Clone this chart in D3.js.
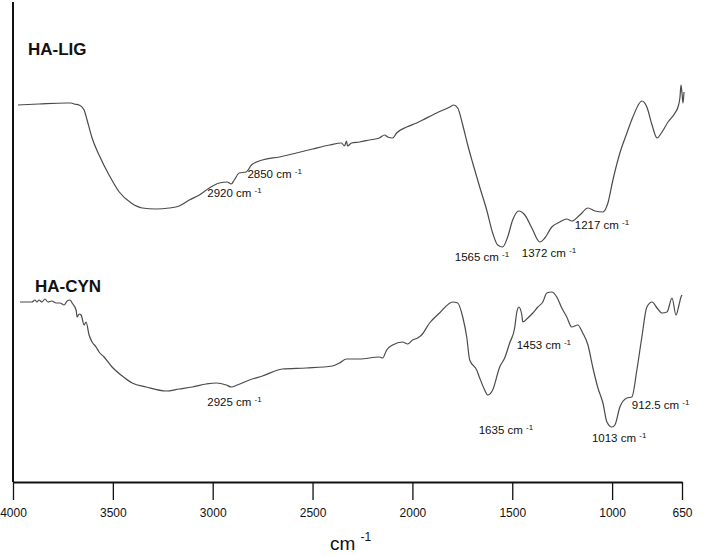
<!DOCTYPE html>
<html>
<head>
<meta charset="utf-8">
<script src="https://cdn.jsdelivr.net/npm/d3@7"></script>
<style>
  body { margin: 0; background: #fff; }
  text { font-family: "Liberation Sans", Arial, sans-serif; fill: #111; }
</style>
</head>
<body>
<div id="plot"></div>
<script>
// wavenumber (cm-1) and relative transmittance (a.u.)
var ligWn = [3975,3870,3734,3709,3694,3669,3644,3629,3604,3569,3519,3468,3408,3353,3283,3218,3168,3117,3067,3017,2967,2927,2907,2892,2867,2832,2806,2751,2666,2581,2500,2415,2355,2340,2330,2325,2305,2265,2215,2165,2139,2124,2099,2079,2029,1979,1949,1879,1813,1793,1773,1748,1723,1698,1663,1628,1598,1573,1548,1523,1498,1467,1437,1402,1362,1337,1302,1262,1227,1202,1162,1121,1086,1046,1021,996,961,926,896,851,826,800,775,750,720,685,670,660,655,650,645,640];
var ligT = [94.25,94.5,94.75,94.75,94.5,94.25,93,90.5,86,81.75,76.75,72.5,69.75,68.5,68.25,68.5,69,70.5,71.75,73.5,74.75,75,74.5,75.5,77.25,77.5,79.25,80.5,81.25,82.25,83.25,84.25,84.75,84,85.25,84,84.75,85,85.5,86,86.75,86.25,86,87.25,88.75,89.75,90.5,92.25,93.75,94.25,93.5,89.25,84.25,79.75,73.75,68,62.25,59.25,58.75,61.25,65.5,67.75,66.75,63.5,60,61,63.75,65,65.75,65.25,66.75,68.5,67.75,67.5,69.75,75.5,82.25,87.25,91.25,95.25,93.75,89.25,86,87.5,90,92.25,93.75,96.25,99.25,97.25,94.75,97.5];

var cynWn = [3965,3905,3890,3880,3870,3855,3840,3825,3805,3784,3764,3744,3729,3714,3704,3684,3679,3669,3659,3644,3634,3619,3604,3584,3569,3544,3504,3453,3403,3333,3233,3168,3102,3032,2982,2932,2907,2877,2816,2751,2651,2531,2400,2365,2330,2265,2165,2149,2129,2099,2049,2024,1999,1974,1954,1914,1864,1798,1773,1748,1728,1713,1678,1663,1638,1623,1598,1563,1538,1513,1488,1478,1467,1452,1447,1422,1397,1372,1347,1327,1302,1277,1252,1227,1202,1172,1147,1121,1096,1071,1046,1026,1001,986,961,926,901,876,851,826,800,775,750,725,700,680,665,655,650];
var cynT = [45,45,45.5,45,45.5,45,45.75,45,45.25,44.75,44.75,44.25,45.25,45.5,44.75,43,41.25,42,41.75,39.25,40,36.75,35,33.75,32.5,31.25,28.75,26.5,24.75,23.75,22.75,23.25,23.75,24.5,24.75,24.25,23.75,24.25,25.5,26.5,28.25,28.5,29,29.75,30.75,30.75,31.25,31,33,34.25,35,34.5,35.5,36,36.75,39.75,42.25,45,44.75,41.25,36.25,30.5,28,26,23,21.75,23,28.75,31,34.75,38.5,42.25,43.75,41.75,40,41,42.25,43.75,45,47.25,47.5,46.25,43.5,41.25,38.75,39.25,37.25,34.25,28.5,23.5,19.75,15,13.75,14.25,18.75,21,21.25,28,36.25,43.75,45,43.5,42.25,42.5,46,41.75,44.25,46.25,46.75];

var tickVals = [4000,3500,3000,2500,2000,1500,1000,650];

var seriesNames = ['HA-LIG','HA-CYN'];
var seriesNameWn = [3925,3890];
var seriesNameT = [106.75,47.5];

var peakText = ['2920','2850','1565','1372','1217','2925','1453','1635','1013','912.5'];
var peakWn = [3027,2826,1788,1452,1187,3027,1478,1668,1101,901];
var peakT = [71.25,76,55.25,56.25,63.25,19,33.25,12,10,18.25];

var W = 708, H = 556;

var xscale = d3.scaleLinear().domain([4000,650]).range([13,682]);
var yscale = d3.scaleLinear().domain([0,120]).range([482,2]);

var svg = d3.select('#plot').append('svg')
  .attr('width', W)
  .attr('height', H);

// y axis: bare line only
svg.append('line')
  .attr('x1', xscale(4000)).attr('x2', xscale(4000))
  .attr('y1', yscale(120)).attr('y2', yscale(0))
  .attr('stroke', '#111').attr('stroke-width', 2);

var xaxis = d3.axisBottom(xscale)
  .tickValues(tickVals)
  .tickFormat(d3.format('d'))
  .tickSize(18)
  .tickSizeOuter(0)
  .tickPadding(8);

var gx = svg.append('g')
  .attr('transform', 'translate(0,' + yscale(0) + ')')
  .call(xaxis);
gx.select('.domain').attr('stroke', '#111').attr('stroke-width', 2);
gx.selectAll('.tick line').attr('stroke', '#111').attr('stroke-width', 1.3);
gx.selectAll('.tick text')
  .attr('font-size', 12)
  .attr('font-family', '"Liberation Sans", Arial, sans-serif')
  .attr('fill', '#111');

// axis title cm -1
var title = svg.append('text')
  .attr('x', 330)
  .attr('y', 550)
  .attr('font-size', 19);
title.append('tspan').text('cm ');
title.append('tspan')
  .attr('font-size', 12)
  .attr('dy', -9)
  .text('-1');

var line = d3.line()
  .x(function(d) { return xscale(d[0]); })
  .y(function(d) { return yscale(d[1]); })
  .curve(d3.curveMonotoneX);

var lig = ligWn.map(function(w, i) { return [w, ligT[i]]; });
var cyn = cynWn.map(function(w, i) { return [w, cynT[i]]; });

svg.selectAll('path.spec')
  .data([lig, cyn])
  .enter().append('path')
  .attr('class', 'spec')
  .attr('d', line)
  .attr('fill', 'none')
  .attr('stroke', '#4a4a4a')
  .attr('stroke-width', 1.2);

svg.selectAll('text.name')
  .data(seriesNames)
  .enter().append('text')
  .attr('class', 'name')
  .attr('x', function(d, i) { return xscale(seriesNameWn[i]); })
  .attr('y', function(d, i) { return yscale(seriesNameT[i]); })
  .attr('font-size', 17)
  .attr('font-weight', 'bold')
  .text(function(d) { return d; });

var peaks = svg.selectAll('text.peak')
  .data(peakText)
  .enter().append('text')
  .attr('class', 'peak')
  .attr('x', function(d, i) { return xscale(peakWn[i]); })
  .attr('y', function(d, i) { return yscale(peakT[i]); })
  .attr('font-size', 11.5);

peaks.append('tspan').text(function(d) { return d + ' cm '; });
peaks.append('tspan')
  .attr('font-size', 8)
  .attr('dy', -4)
  .text('-1');
</script>
</body>
</html>
